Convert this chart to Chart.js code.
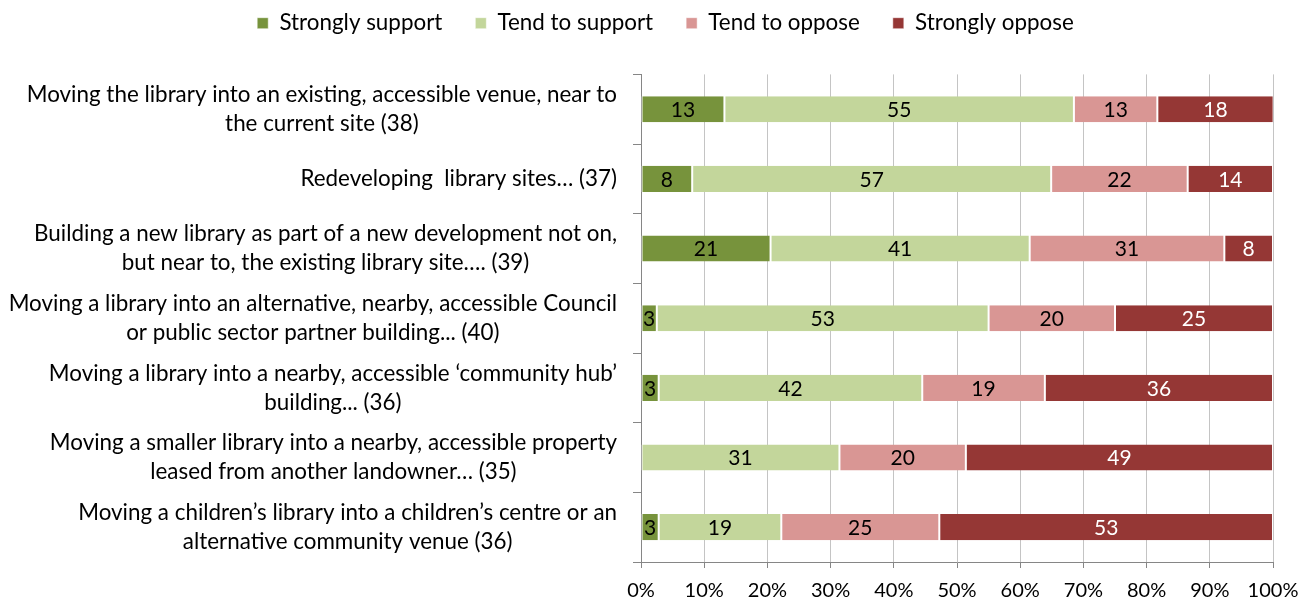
<!DOCTYPE html>
<html>
<head>
<meta charset="utf-8">
<script src="https://cdn.jsdelivr.net/npm/chart.js@4/dist/chart.umd.min.js"></script>
<style>
  body { margin: 0; background: #fff; }
  canvas { display: block; }
</style>
</head>
<body>
<canvas id="chart" width="1303" height="598"></canvas>
<script>
// Categorie (righe del grafico), ogni voce divisa su piu' righe come nel riferimento
const categories = [
  ['Moving the library into an existing, accessible venue, near to', 'the current site (38)'],
  ['Redeveloping  library sites\u2026 (37)'],
  ['Building a new library as part of a new development not on,', 'but near to, the existing library site\u2026. (39)'],
  ['Moving a library into an alternative, nearby, accessible Council', 'or public sector partner building... (40)'],
  ['Moving a library into a nearby, accessible \u2018community hub\u2019', 'building... (36)'],
  ['Moving a smaller library into a nearby, accessible property', 'leased from another landowner\u2026 (35)'],
  ['Moving a children\u2019s library into a children\u2019s centre or an', 'alternative community venue (36)']
];

// Percentuali
const stronglySupport = [13.2, 8.1, 20.5, 2.5, 2.8, 0, 2.8];
const tendSupport     = [55.3, 56.8, 41.0, 52.5, 41.7, 31.4, 19.4];
const tendOppose      = [13.2, 21.6, 30.8, 20.0, 19.4, 20.0, 25.0];
const stronglyOppose  = [18.4, 13.5, 7.7, 25.0, 36.1, 48.6, 52.8];

const xTicks = [0, 10, 20, 30, 40, 50, 60, 70, 80, 90, 100];

const fontFamily = 'Lato, "Open Sans", sans-serif';
const labelSize = 22.4;

// Etichette dei valori dentro le barre
const valueLabels = {
  id: 'valueLabels',
  afterDatasetsDraw(chart) {
    const ctx = chart.ctx;
    ctx.save();
    ctx.font = '21px ' + fontFamily;
    ctx.textAlign = 'center';
    ctx.textBaseline = 'middle';
    chart.data.datasets.forEach((ds, i) => {
      chart.getDatasetMeta(i).data.forEach((bar, j) => {
        const v = ds.data[j];
        if (!v) return;
        ctx.fillStyle = ds.labelColor;
        ctx.fillText(Math.round(v), (bar.x + bar.base) / 2, bar.y + 1);
      });
    });
    ctx.restore();
  }
};

// Etichette dell'asse y: blocco allineato a destra, righe centrate tra loro
const categoryLabels = {
  id: 'categoryLabels',
  afterDraw(chart) {
    const ctx = chart.ctx;
    const yScale = chart.scales.y;
    const right = yScale.right - 24;
    const lineHeight = 29;
    ctx.save();
    ctx.font = labelSize + 'px ' + fontFamily;
    ctx.fillStyle = '#000';
    ctx.textAlign = 'center';
    ctx.textBaseline = 'middle';
    categories.forEach((lines, i) => {
      const y = yScale.getPixelForTick(i);
      const w = Math.max(...lines.map(l => ctx.measureText(l).width));
      const cx = right - w / 2;
      lines.forEach((l, k) => {
        ctx.fillText(l, cx, y + (k - (lines.length - 1) / 2) * lineHeight);
      });
    });
    ctx.restore();
  }
};

// Spazio extra sotto la legenda
const legendSpace = {
  id: 'legendSpace',
  beforeInit(chart) {
    const fit = chart.legend.fit;
    chart.legend.fit = function () {
      fit.bind(chart.legend)();
      this.height += 30;
    };
  }
};

function makeDataset(label, data, color, labelColor) {
  return {
    label: label,
    data: data,
    backgroundColor: color,
    borderColor: '#ffffff',
    borderWidth: { left: 1, right: 1, top: 0, bottom: 0 },
    borderSkipped: false,
    labelColor: labelColor,
    barPercentage: 0.375,
    categoryPercentage: 1
  };
}

const ctx = document.getElementById('chart').getContext('2d');
const chart = new Chart(ctx, {
  type: 'bar',
  data: {
    labels: categories.map(c => c.join(' ')),
    datasets: [
      makeDataset('Strongly support', stronglySupport, '#77933C', '#000'),
      makeDataset('Tend to support', tendSupport, '#C3D69B', '#000'),
      makeDataset('Tend to oppose', tendOppose, '#D99694', '#000'),
      makeDataset('Strongly oppose', stronglyOppose, '#953735', '#fff')
    ]
  },
  options: {
    indexAxis: 'y',
    responsive: false,
    animation: false,
    devicePixelRatio: 1,
    layout: { padding: { left: 58, right: 30, top: -21, bottom: -16 } },
    plugins: {
      legend: {
        position: 'top',
        labels: {
          boxWidth: 11,
          boxHeight: 11,
          padding: 33,
          color: '#000',
          font: { family: fontFamily, size: labelSize }
        }
      },
      tooltip: { enabled: false }
    },
    scales: {
      x: {
        stacked: true,
        min: 0,
        max: 100,
        afterBuildTicks: scale => { scale.ticks = xTicks.map(v => ({ value: v })); },
        afterFit: scale => { scale.paddingLeft = 0; scale.paddingRight = 0; },
        border: { color: '#868686', width: 1 },
        grid: { color: '#c4c4c4', tickLength: 6, tickColor: '#868686' },
        ticks: {
          color: '#000',
          padding: 11,
          maxRotation: 0,
          font: { family: fontFamily, size: 20 },
          callback: v => v + '%'
        }
      },
      y: {
        stacked: true,
        afterFit: scale => { scale.width = 583; },
        border: { color: '#868686', width: 1 },
        grid: { drawOnChartArea: false, tickLength: 8, color: '#868686', offset: true },
        ticks: { display: false }
      }
    }
  },
  plugins: [valueLabels, categoryLabels, legendSpace]
});
</script>
</body>
</html>
